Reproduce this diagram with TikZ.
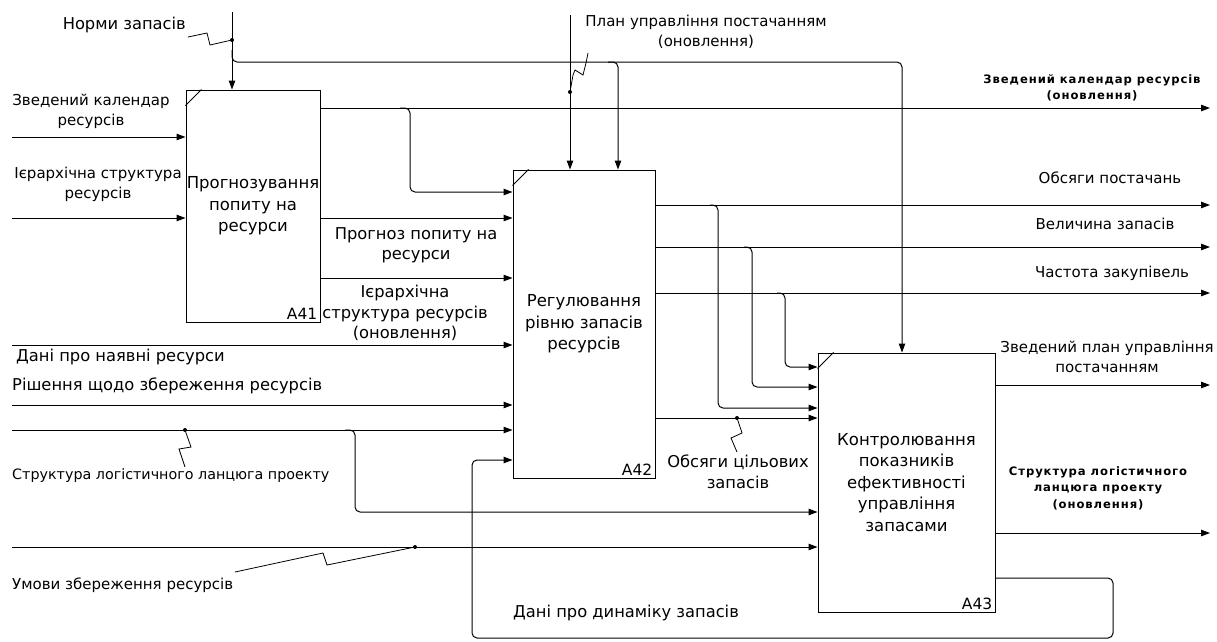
\documentclass[tikz,border=0pt]{standalone}
\usepackage{fontspec}
\setmainfont{DejaVu Sans}
\newfontfamily\spacedfont[LetterSpace=8]{DejaVu Sans}
\usetikzlibrary{arrows.meta}

\begin{document}
\begin{tikzpicture}[x=1pt,y=-1pt,
    proc/.style={draw=black, line width=1pt, align=center, inner sep=0pt, font=\fontsize{16.5}{21.5}\selectfont},
    lbl/.style={align=center, inner sep=0pt, font=\fontsize{15}{20}\selectfont},
    big/.style={align=center, inner sep=0pt, font=\fontsize{16.3}{20.5}\selectfont},
    sml/.style={align=center, inner sep=0pt, font=\fontsize{14.3}{18}\selectfont},
    bld/.style={align=center, inner sep=0pt, font=\spacedfont\bfseries\fontsize{11.6}{16.5}\selectfont},
    tag/.style={anchor=south east, inner sep=3pt, font=\fontsize{15.5}{15.5}\selectfont},
    arr/.style={line width=1pt, -{Triangle[length=9pt,width=6.5pt]}, rounded corners=5pt},
    sq/.style={line width=0.8pt},
    dot/.style={circle, fill=black, inner sep=0pt, minimum size=4pt}]

	\useasboundingbox (0,0) rectangle (1217,641);

	% activity boxes
	\node[proc, minimum width=134pt, minimum height=232pt] (A41) at (253,206) {Прогнозування\\попиту на\\ресурси};
	\node[proc, minimum width=142pt, minimum height=308pt] (A42) at (584,324) {Регулювання\\рівню запасів\\ресурсів};
	\node[proc, minimum width=177pt, minimum height=259pt] (A43) at (906.5,482.5) {Контролювання\\показників\\ефективності\\управління\\запасами};
	\node[tag] (A41id) at (A41.south east) {A41};
	\node[tag] (A42id) at (A42.south east) {A42};
	\node[tag] (A43id) at (A43.south east) {A43};
	\foreach \b in {A41,A42,A43}
		\draw[line width=1pt] (\b.north west) ++(0,16) -- ++(16,-16);

	% controls
	\coordinate (nz) at (232,12);
	\coordinate (pl) at (570,15);
	\coordinate (nzb) at (232,50);
	\coordinate (nzc) at (902,62);
	\coordinate (plb) at (608,62);
	\coordinate (plc) at (618,62);
	\draw[arr] (nz) -- (nz |- A41.north);
	\draw[arr] (pl) -- (pl |- A42.north);
	\draw[arr] (nzb) -- (nzb |- nzc) -- (nzc) -- (nzc |- A43.north);
	\draw[arr] (plb) -- (plc) -- (plc |- A42.north);

	\node[big, anchor=east] (nzl) at (186,25) {Норми запасів};
	\node[dot] (nzd) at (232,40) {};
	\draw[sq] (188,37) -- (207,33) -- (210,45) -- (nzd);
	\node[lbl] (pll) at (706,32) {План управління постачанням\\(оновлення)};
	\node[dot] (pld) at (570,92) {};
	\draw[sq] (pld) -- (573,75) -- (575,70) -- (583,75) -- (586,63) -- (588,53);

	% inputs of A41
	\coordinate (zk) at (12,137);
	\coordinate (is) at (12,218);
	\draw[arr] (zk) -- (zk -| A41.west);
	\draw[arr] (is) -- (is -| A41.west);
	\node[lbl] (zkl) at (91,111) {Зведений календар\\ресурсів};
	\node[lbl] (isl) at (98,184) {Ієрархічна структура\\ресурсів};

	% outputs of A41
	\coordinate (zko) at (1210,108);
	\coordinate (zkb0) at (400,108);
	\coordinate (zkb) at (410,192);
	\coordinate (pg) at (0,218);
	\coordinate (ie) at (0,278);
	\draw[arr] (zko -| A41.east) -- (zko);
	\draw[arr] (zkb0) -- (zkb |- zkb0) -- (zkb) -- (zkb -| A42.west);
	\draw[arr] (pg -| A41.east) -- (pg -| A42.west);
	\draw[arr] (ie -| A41.east) -- (ie -| A42.west);
	\node[bld] (zkol) at (1092,88) {Зведений календар ресурсів\\(оновлення)};
	\node[big] (pgl) at (416,245) {Прогноз попиту на\\ресурси};
	\node[big] (iel) at (405,313) {Ієрархічна\\структура ресурсів\\(оновлення)};

	% inputs of A42 and A43
	\coordinate (dn) at (12,345);
	\coordinate (rs) at (12,405);
	\coordinate (sl) at (12,430);
	\coordinate (slb0) at (345,430);
	\coordinate (slb) at (355,512);
	\coordinate (uz) at (12,547);
	\draw[arr] (dn) -- (dn -| A42.west);
	\draw[arr] (rs) -- (rs -| A42.west);
	\draw[arr] (sl) -- (sl -| A42.west);
	\draw[arr] (slb0) -- (slb |- slb0) -- (slb) -- (slb -| A43.west);
	\draw[arr] (uz) -- (uz -| A43.west);
	\node[big, anchor=west] (dnl) at (16,357) {Дані про наявні ресурси};
	\node[big, anchor=west] (rsl) at (12,386) {Рішення щодо збереження ресурсів};
	\node[sml, anchor=west] (sll) at (12,476) {Структура логістичного ланцюга проекту};
	\node[dot] (sld) at (185,430) {};
	\draw[sq] (sld) -- (191,447) -- (179,449) -- (185,467);
	\node[lbl, anchor=west] (uzl) at (12,585) {Умови збереження ресурсів};
	\node[dot] (uzd) at (415,547) {};
	\draw[sq] (235,572) -- (323,553) -- (327,565) -- (uzd);

	% outputs of A42
	\coordinate (op) at (1210,205);
	\coordinate (opb0) at (710,205);
	\coordinate (opb) at (718,408);
	\coordinate (vz) at (1210,247);
	\coordinate (vzb0) at (744,247);
	\coordinate (vzb) at (752,387);
	\coordinate (cz) at (1210,293);
	\coordinate (czb0) at (777,293);
	\coordinate (czb) at (785,367);
	\coordinate (oc) at (0,418);
	\draw[arr] (op -| A42.east) -- (op);
	\draw[arr] (vz -| A42.east) -- (vz);
	\draw[arr] (cz -| A42.east) -- (cz);
	\draw[arr] (opb0) -- (opb |- opb0) -- (opb) -- (opb -| A43.west);
	\draw[arr] (vzb0) -- (vzb |- vzb0) -- (vzb) -- (vzb -| A43.west);
	\draw[arr] (czb0) -- (czb |- czb0) -- (czb) -- (czb -| A43.west);
	\draw[arr] (oc -| A42.east) -- (oc -| A43.west);
	\node[lbl] (opl) at (1110,178) {Обсяги постачань};
	\node[lbl] (vzl) at (1105,224) {Величина запасів};
	\node[lbl] (czl) at (1112,273) {Частота закупівель};
	\node[big] (ocl) at (738,472) {Обсяги цільових\\запасів};
	\node[dot] (ocd) at (737,418) {};
	\draw[sq] (ocd) -- (742,433) -- (731,438) -- (737,452);

	% outputs of A43
	\coordinate (zp) at (1210,385);
	\coordinate (st) at (1210,533);
	\coordinate (fb1) at (1113,578);
	\coordinate (fb2) at (472,638);
	\coordinate (fb3) at (472,460);
	\draw[arr] (zp -| A43.east) -- (zp);
	\draw[arr] (st -| A43.east) -- (st);
	\draw[arr] (fb1 -| A43.east) -- (fb1) -- (fb1 |- fb2) -- (fb2) -- (fb3) -- (fb3 -| A42.west);
	\node[lbl] (zpl) at (1107,357) {Зведений план управління\\постачанням};
	\node[bld] (stl) at (1098,488) {Структура логістичного\\ланцюга проекту\\(оновлення)};
	\node[big] (fbl) at (626,613) {Дані про динаміку запасів};

\end{tikzpicture}
\end{document}
